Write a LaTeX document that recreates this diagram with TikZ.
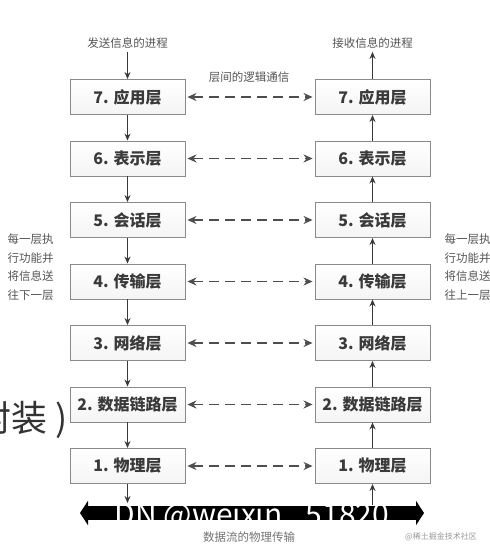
\documentclass[tikz,border=0pt]{standalone}
\usepackage{fontspec}
\setmainfont{Noto Sans CJK SC}
\newfontfamily\cjk{Noto Sans CJK SC}
\usetikzlibrary{arrows.meta}
\definecolor{boxline}{HTML}{8A8A8A}
\definecolor{boxfill}{HTML}{F2F2F2}
\definecolor{ink}{HTML}{3A3A3A}
\definecolor{lbl}{HTML}{555555}
\tikzset{
  layer/.style={draw=boxline, line width=0.9pt, top color=white, bottom color=boxfill!80!gray!30, minimum width=115pt, minimum height=35pt, inner sep=0pt, font=\cjk\fontsize{16}{18}\selectfont\bfseries, text=ink},
  flow/.style={draw=ink, line width=1.1pt, -{Stealth[length=7pt,width=6pt]}},
  peer/.style={draw=ink!90, line width=1.8pt, dash pattern=on 10pt off 6pt, shorten <=2pt, shorten >=2pt, {Stealth[length=9pt,width=8pt]}-{Stealth[length=9pt,width=8pt]}},
  lab/.style={font=\cjk\fontsize{11.5}{13}\selectfont, text=lbl},
  side/.style={font=\cjk\fontsize{11.5}{18.5}\selectfont, text=lbl, align=left},
}
\begin{document}
\begin{tikzpicture}[x=1pt,y=-1pt]
\useasboundingbox (0,0) rectangle (490,549);
\fill[white] (0,0) rectangle (490,549);
% background slide text
\node[anchor=east, font=\cjk\fontsize{36}{40}\selectfont, text=black!80, inner sep=0pt] (bg) at (68,420) {封装 )};
% layers
\foreach \n/\t [count=\i from 0] in {7/7. 应用层,6/6. 表示层,5/5. 会话层,4/4. 传输层,3/3. 网络层,2/2. 数据链路层,1/1. 物理层}{
  \node[layer] (L\n) at (127.5,97+61.5*\i) {\t};
  \node[layer] (R\n) at (372.5,97+61.5*\i) {\t};
  \draw[peer] (L\n.east) -- (R\n.west);
}
% labels
\node[lab] (send) at (127.5,43) {发送信息的进程};
\node[lab] (recv) at (372.5,43) {接收信息的进程};
\node[lab] (logic) at (249,77) {层间的逻辑通信};
\draw[flow] (send.south) -- (L7.north);
\draw[flow] (R7.north) -- (recv.south);
\foreach \a/\b in {7/6,6/5,5/4,4/3,3/2,2/1}{
  \draw[flow] (L\a.south) -- (L\b.north);
  \draw[flow] (R\b.north) -- (R\a.south);
}
% physical medium
\coordinate (pl) at (80,513);
\coordinate (pr) at (424,513);
\coordinate (pm) at (250,513);
\draw[line width=14pt, -{Triangle[length=8pt,width=24pt]}] (pm) -- (pr);
\draw[line width=14pt, -{Triangle[length=8pt,width=24pt]}] (pm) -- (pl);
\draw[flow] (L1.south) -- (L1.south |- 0,503) coordinate (ld);
\draw[flow] (R1.south |- 0,505) coordinate (ru) -- (R1.south);
\node[font=\fontsize{30}{30}\selectfont, text=white, inner sep=0pt] (wm) at (252,516) {DN @weixin\_ 51820};
\node[lab, text=black!55] (phys) at (249,537) {数据流的物理传输};
\node[font=\cjk\fontsize{8}{9}\selectfont, text=black!40] (jj) at (441,537) {@稀土掘金技术社区};
% side notes
\node[side, anchor=west] (ln) at (4,267) {每一层执\\行功能并\\将信息送\\往下一层};
\node[side, anchor=west] (rn) at (441,267) {每一层执\\行功能并\\将信息送\\往上一层};
\end{tikzpicture}
\end{document}
